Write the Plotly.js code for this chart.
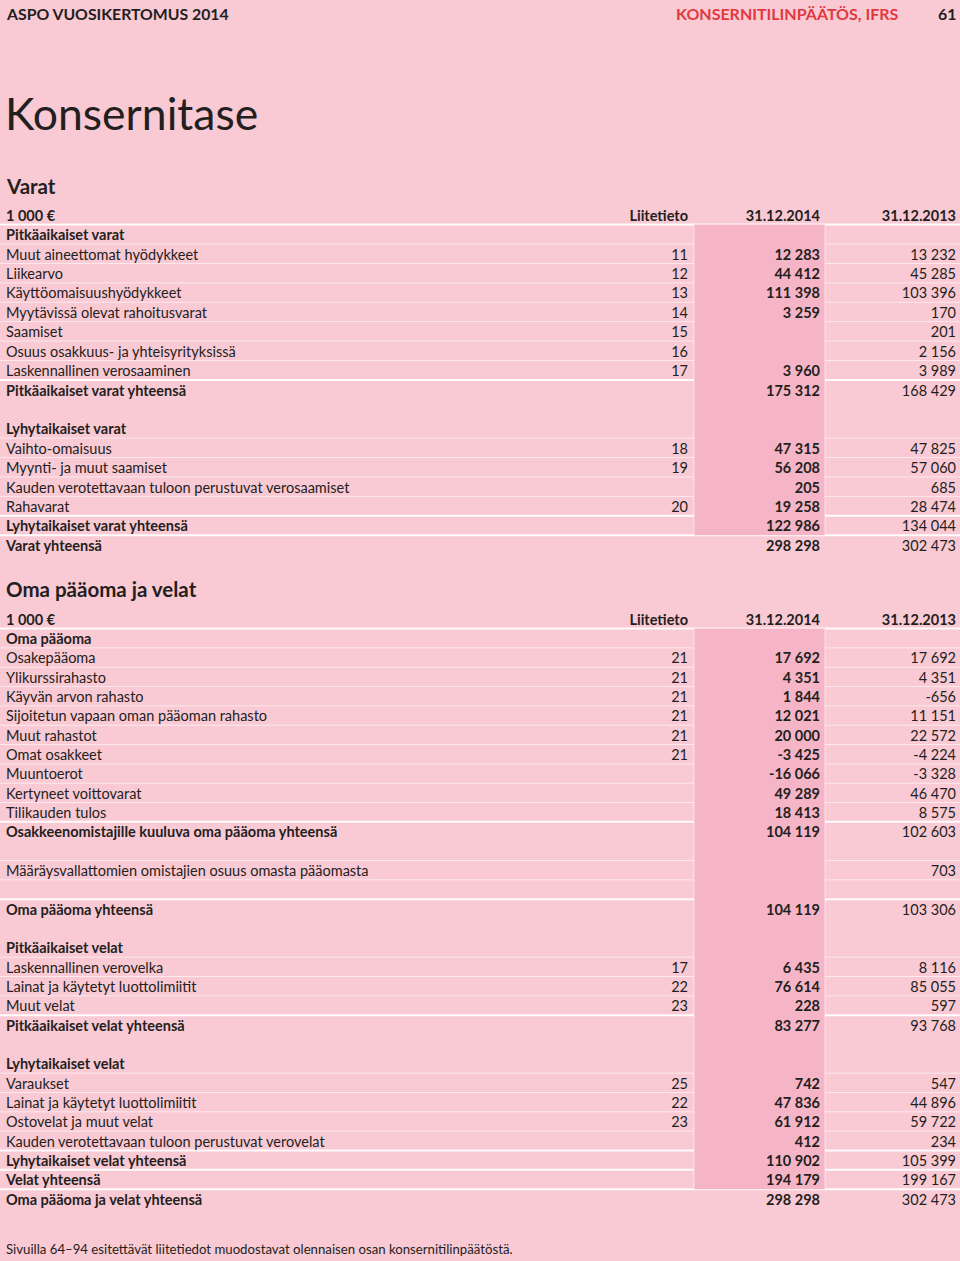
<!DOCTYPE html>
<html><head><meta charset="utf-8">
<script src="https://cdn.plot.ly/plotly-3.0.1.min.js"></script>
<style>html,body{margin:0;padding:0;background:#f9c9d4}</style></head>
<body><div id="chart" style="width:960px;height:1261px"></div>
<script>
// ---------- DATA ----------
const colHeaders = ['1 000 €', 'Liitetieto', '31.12.2014', '31.12.2013'];

const varatLabels = [
  'Pitkäaikaiset varat',
  'Muut aineettomat hyödykkeet',
  'Liikearvo',
  'Käyttöomaisuushyödykkeet',
  'Myytävissä olevat rahoitusvarat',
  'Saamiset',
  'Osuus osakkuus- ja yhteisyrityksissä',
  'Laskennallinen verosaaminen',
  'Pitkäaikaiset varat yhteensä',
  '',
  'Lyhytaikaiset varat',
  'Vaihto-omaisuus',
  'Myynti- ja muut saamiset',
  'Kauden verotettavaan tuloon perustuvat verosaamiset',
  'Rahavarat',
  'Lyhytaikaiset varat yhteensä',
  'Varat yhteensä'
];
const varatKinds = ['section','item','item','item','item','item','item','item','total','blank','section','item','item','item','item','total','total'];
const varatNotes = ['', '11', '12', '13', '14', '15', '16', '17', '', '', '', '18', '19', '', '20', '', ''];
const varat2014 = [null, 12283, 44412, 111398, 3259, null, null, 3960, 175312, null, null, 47315, 56208, 205, 19258, 122986, 298298];
const varat2013 = [null, 13232, 45285, 103396, 170, 201, 2156, 3989, 168429, null, null, 47825, 57060, 685, 28474, 134044, 302473];

const omaLabels = [
  'Oma pääoma',
  'Osakepääoma',
  'Ylikurssirahasto',
  'Käyvän arvon rahasto',
  'Sijoitetun vapaan oman pääoman rahasto',
  'Muut rahastot',
  'Omat osakkeet',
  'Muuntoerot',
  'Kertyneet voittovarat',
  'Tilikauden tulos',
  'Osakkeenomistajille kuuluva oma pääoma yhteensä',
  '',
  'Määräysvallattomien omistajien osuus omasta pääomasta',
  '',
  'Oma pääoma yhteensä',
  '',
  'Pitkäaikaiset velat',
  'Laskennallinen verovelka',
  'Lainat ja käytetyt luottolimiitit',
  'Muut velat',
  'Pitkäaikaiset velat yhteensä',
  '',
  'Lyhytaikaiset velat',
  'Varaukset',
  'Lainat ja käytetyt luottolimiitit',
  'Ostovelat ja muut velat',
  'Kauden verotettavaan tuloon perustuvat verovelat',
  'Lyhytaikaiset velat yhteensä',
  'Velat yhteensä',
  'Oma pääoma ja velat yhteensä'
];
const omaKinds = ['section','item','item','item','item','item','item','item','item','item','total','blank','item','blank','total','blank','section','item','item','item','total','blank','section','item','item','item','item','total','total','total'];
const omaNotes = ['', '21', '21', '21', '21', '21', '21', '', '', '', '', '', '', '', '', '', '', '17', '22', '23', '', '', '', '25', '22', '23', '', '', '', ''];
const oma2014 = [null, 17692, 4351, 1844, 12021, 20000, -3425, -16066, 49289, 18413, 104119, null, null, null, 104119, null, null, 6435, 76614, 228, 83277, null, null, 742, 47836, 61912, 412, 110902, 194179, 298298];
const oma2013 = [null, 17692, 4351, -656, 11151, 22572, -4224, -3328, 46470, 8575, 102603, null, 703, null, 103306, null, null, 8116, 85055, 597, 93768, null, null, 547, 44896, 59722, 234, 105399, 199167, 302473];

// ---------- STYLE / LAYOUT CONSTANTS ----------
const W = 960, H = 1261;
const BG = '#f9c9d4', HILITE = '#f5b5c7', INK = '#231f20', RED = '#e0393e';
const FONT = 'Lato, "Open Sans", sans-serif';
const FS = 14.5;
const colX = {label: 6, note: 688, y2014: 820, y2013: 956};
const hiX = [694, 825];
const LINE_SHIFT_PX = 2.3; // rules sit slightly above the text row boundary

function fmt(v) {
  if (v === null || v === undefined) return '';
  const s = Math.abs(v).toString().replace(/\B(?=(\d{3})+(?!\d))/g, ' ');
  return (v < 0 ? '-' : '') + s;
}
const b = s => s ? '<b>' + s + '</b>' : '';

function buildTable(labels, kinds, notes, v14, v13, yaxis, pitch) {
  const allKinds = ['head'].concat(kinds);
  const n = allKinds.length;
  const rows = [...Array(n).keys()];
  const lab = [colHeaders[0]].concat(labels).map((s, i) => (allKinds[i] === 'item' || allKinds[i] === 'blank') ? s : b(s));
  const nt = [b(colHeaders[1])].concat(notes);
  const c14 = [colHeaders[2]].concat(v14.map(fmt)).map(b);
  const c13 = [b(colHeaders[3])].concat(v13.map(fmt));
  const mk = (x, text, pos) => ({
    type: 'scatter', mode: 'text', x: rows.map(() => x), y: rows, text: text,
    textposition: pos, textfont: {family: FONT, size: FS, color: INK},
    yaxis: yaxis, xaxis: 'x', hoverinfo: 'skip', showlegend: false, cliponaxis: false
  });
  const traces = [
    mk(colX.label, lab, 'middle right'),
    mk(colX.note, nt, 'middle left'),
    mk(colX.y2014, c14, 'middle left'),
    mk(colX.y2013, c13, 'middle left')
  ];
  const yref = yaxis;
  const sh = LINE_SHIFT_PX / pitch;
  const shapes = [];
  shapes.push({type: 'rect', layer: 'below', xref: 'x', yref: yref, x0: hiX[0], x1: hiX[1],
    y0: 0.5 - sh, y1: n - 1.5 - sh, fillcolor: HILITE, line: {width: 0}});
  hiX.forEach(x => shapes.push({type: 'line', layer: 'below', xref: 'x', yref: yref, x0: x, x1: x,
    y0: 0.5 - sh, y1: n - 1.5 - sh, line: {color: 'rgba(255,255,255,0.55)', width: 1}}));
  for (let r = 1; r < n; r++) {
    const k = allKinds[r], prev = allKinds[r - 1];
    let w = 0;
    if (k === 'total') w = 2;
    else if (k === 'section') w = prev === 'head' ? 2 : 0;
    else if (k === 'item') w = 1;
    else if (k === 'blank') w = prev === 'item' ? 1 : 0;
    if (!w) continue;
    shapes.push({type: 'line', layer: 'below', xref: 'paper', yref: yref, x0: 0, x1: 1,
      y0: r - 0.5 - sh, y1: r - 0.5 - sh,
      line: {color: w === 2 ? 'rgba(255,255,255,0.95)' : 'rgba(255,255,255,0.6)', width: w === 2 ? 2 : 1}});
  }
  return {traces, shapes, n};
}

const pitch1 = 19.41, top1 = 217.2, pitch2 = 19.33, top2 = 621.2;
const t1 = buildTable(varatLabels, varatKinds, varatNotes, varat2014, varat2013, 'y', pitch1);
const t2 = buildTable(omaLabels, omaKinds, omaNotes, oma2014, oma2013, 'y2', pitch2);

const dom = (top, pitch, n) => [1 - (top + (n - 0.5) * pitch) / H, 1 - (top - 0.5 * pitch) / H];

const py = px => 1 - px / H;
const ann = (text, x, y, size, color, anchor, bold) => ({
  xref: 'paper', yref: 'paper', x: x / W, y: py(y), text: bold ? '<b>' + text + '</b>' : text,
  showarrow: false, xanchor: anchor, yanchor: 'middle',
  font: {family: FONT, size: size, color: color}, borderpad: 0
});

const layout = {
  width: W, height: H, margin: {l: 0, r: 0, t: 0, b: 0},
  paper_bgcolor: BG, plot_bgcolor: BG,
  xaxis: {range: [0, W], visible: false, fixedrange: true},
  yaxis: {domain: dom(top1, pitch1, t1.n), range: [t1.n - 0.5, -0.5], visible: false, fixedrange: true},
  yaxis2: {domain: dom(top2, pitch2, t2.n), range: [t2.n - 0.5, -0.5], visible: false, fixedrange: true, anchor: 'x'},
  shapes: t1.shapes.concat(t2.shapes),
  annotations: [
    ann('ASPO VUOSIKERTOMUS 2014', 5, 14, 15.8, INK, 'left', true),
    ann('KONSERNITILINPÄÄTÖS, IFRS', 900, 14, 16, RED, 'right', true),
    ann('61', 957, 14, 15.8, INK, 'right', true),
    ann('Konsernitase', 4, 112, 44.5, INK, 'left', false),
    ann('Varat', 5, 185.5, 20.5, INK, 'left', true),
    ann('Oma pääoma ja velat', 5, 588.5, 20.5, INK, 'left', true),
    ann('Sivuilla 64–94 esitettävät liitetiedot muodostavat olennaisen osan konsernitilinpäätöstä.', 5, 1249, 13.2, INK, 'left', false)
  ],
  showlegend: false
};

Plotly.newPlot('chart', t1.traces.concat(t2.traces), layout, {staticPlot: true, displayModeBar: false});
</script></body></html>
